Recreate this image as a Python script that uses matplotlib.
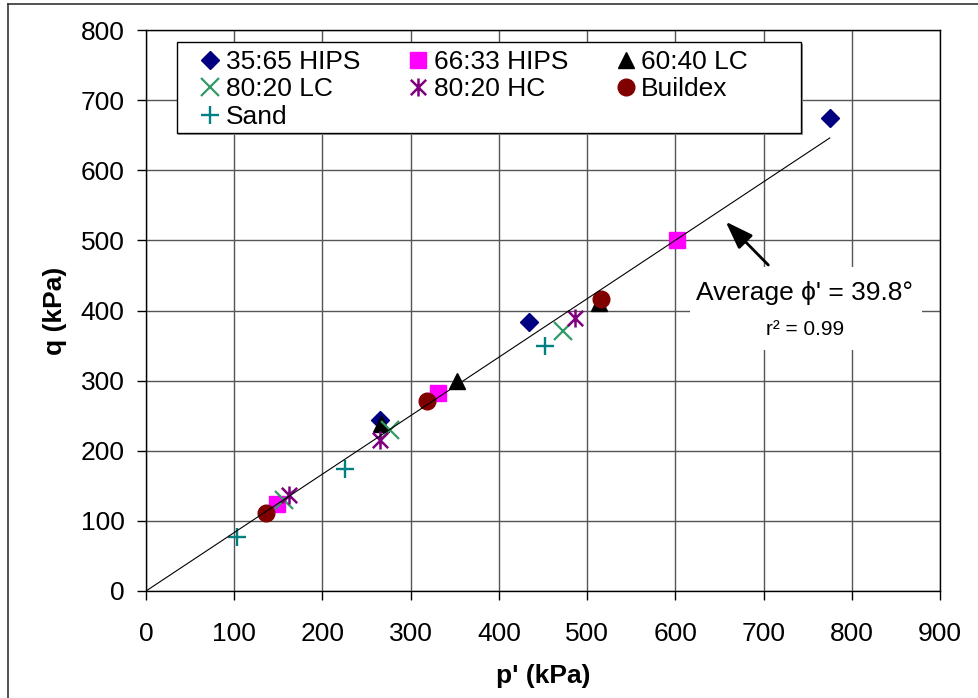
import matplotlib.pyplot as plt
from matplotlib.patches import Rectangle
from matplotlib.path import Path
from matplotlib.lines import Line2D

plt.rcParams['font.family'] = ['Liberation Sans', 'DejaVu Sans']

# p' (kPa), q (kPa)
hips_3565_p = [265, 434, 775]
hips_3565_q = [244, 384, 674]
hips_6633_p = [149, 331, 602]
hips_6633_q = [124, 282, 501]
lc_6040_p = [266, 352, 513]
lc_6040_q = [238, 300, 410]
lc_8020_p = [156, 277, 473]
lc_8020_q = [130, 229, 371]
hc_8020_p = [162, 265, 486]
hc_8020_q = [137, 215, 389]
buildex_p = [136, 318, 516]
buildex_q = [111, 271, 416]
sand_p = [103, 225, 452]
sand_q = [77, 174, 350]

# average failure line
fit_p = [0, 775]
fit_q = [0, 646]

W, H = 979, 698
def fx(x):
    return x / W
def fy(y):
    return 1 - y / H

AX_W = (940 - 146) / W
AX_H = (591 - 30) / H

fig = plt.figure(figsize=(9.79, 6.98), dpi=100)
ax = fig.add_axes([fx(146), fy(591), AX_W, AX_H])

star = Path([(0, -1), (0, 1), (-0.85, -0.85), (0.85, 0.85), (-0.85, 0.85), (0.85, -0.85)],
            [Path.MOVETO, Path.LINETO] * 3)

ax.plot(hips_3565_p, hips_3565_q, ls='none', marker='D', ms=9, color='#000080', label='35:65 HIPS')
ax.plot(hips_6633_p, hips_6633_q, ls='none', marker='s', ms=11, color='#ff00ff', label='66:33 HIPS')
ax.plot(lc_6040_p, lc_6040_q, ls='none', marker='^', ms=11, color='black', label='60:40 LC')
ax.plot(lc_8020_p, lc_8020_q, ls='none', marker='x', ms=13, mew=1.6, color='#339966', label='80:20 LC')
ax.plot(hc_8020_p, hc_8020_q, ls='none', marker=star, ms=13, mew=1.8, color='#800080', label='80:20 HC')
ax.plot(buildex_p, buildex_q, ls='none', marker='o', ms=12, color='#800000', label='Buildex')
ax.plot(sand_p, sand_q, ls='none', marker='+', ms=12.5, mew=1.7, color='#008080', label='Sand')
ax.plot(fit_p, fit_q, color='black', lw=0.8, zorder=3)

ax.set_xlim(0, 900)
ax.set_ylim(0, 800)
ax.set_xticks(range(0, 901, 100))
ax.set_yticks(range(0, 801, 100))
ax.grid(True, color='#555555', lw=1)
ax.set_axisbelow(True)
for s in ax.spines.values():
    s.set_color('black')
    s.set_linewidth(1)
ax.tick_params(axis='both', direction='out', length=6.5, width=1, labelsize=19, colors='black')
ax.tick_params(axis='y', pad=9)
ax.tick_params(axis='x', pad=16)
ax.set_xlabel("p' (kPa)", fontsize=19, fontweight='bold', va='center')
ax.set_ylabel('q (kPa)', fontsize=19, fontweight='bold', va='center')
ax.xaxis.set_label_coords(0.5, (fy(676) - fy(591)) / AX_H)
ax.yaxis.set_label_coords((fx(55) - fx(146)) / AX_W, 0.5)

# legend with Excel-style frame (row-major order like Excel)
ax.add_patch(Rectangle((fx(178.5), fy(134.5)), (800.7 - 176.7) / W, (132.7 - 42.3) / H,
                       transform=fig.transFigure, facecolor='#999999', edgecolor='none',
                       zorder=4, clip_on=False))
ax.add_patch(Rectangle((fx(176.7), fy(132.7)), (800.7 - 176.7) / W, (132.7 - 42.3) / H,
                       transform=fig.transFigure, facecolor='white', edgecolor='black',
                       lw=1, zorder=4, clip_on=False))
handles, labels = ax.get_legend_handles_labels()
order = [0, 3, 6, 1, 4, 2, 5]
leg = ax.legend([handles[i] for i in order], [labels[i] for i in order],
                loc='upper left', bbox_to_anchor=(fx(199.5), fy(50)),
                bbox_transform=fig.transFigure, ncol=3, frameon=False, fontsize=19,
                borderpad=0, borderaxespad=0, handlelength=0.8, handletextpad=0.2,
                columnspacing=1.78, labelspacing=0.13, numpoints=1)
leg.set_zorder(5)

# annotation box
ax.add_patch(Rectangle((fx(690), fy(350)), (922 - 690) / W, (350 - 267) / H,
                       transform=fig.transFigure, facecolor='white', edgecolor='none',
                       zorder=4, clip_on=False))
fig.text(fx(805), fy(293), "Average \u03d5' = 39.8\u00b0", ha='center', va='center', fontsize=19, zorder=6)
fig.text(fx(805), fy(330), 'r\u00b2 = 0.99', ha='center', va='center', fontsize=15, zorder=6)
ax.annotate('', xy=(725.7, H - 221.7), xytext=(768.3, H - 265), xycoords='figure pixels',
            textcoords='figure pixels',
            arrowprops=dict(arrowstyle='-|>,head_length=0.85,head_width=0.3', color='black',
                            lw=2, mutation_scale=20, shrinkA=0, shrinkB=0), zorder=6)

# outer chart border
fig.add_artist(Line2D([fx(8), fx(8)], [fy(4), 0], color='#333333', lw=1.2))
fig.add_artist(Line2D([fx(8), 1], [fy(4), fy(4)], color='#333333', lw=1.2))

fig.savefig('out.png', dpi=100)
